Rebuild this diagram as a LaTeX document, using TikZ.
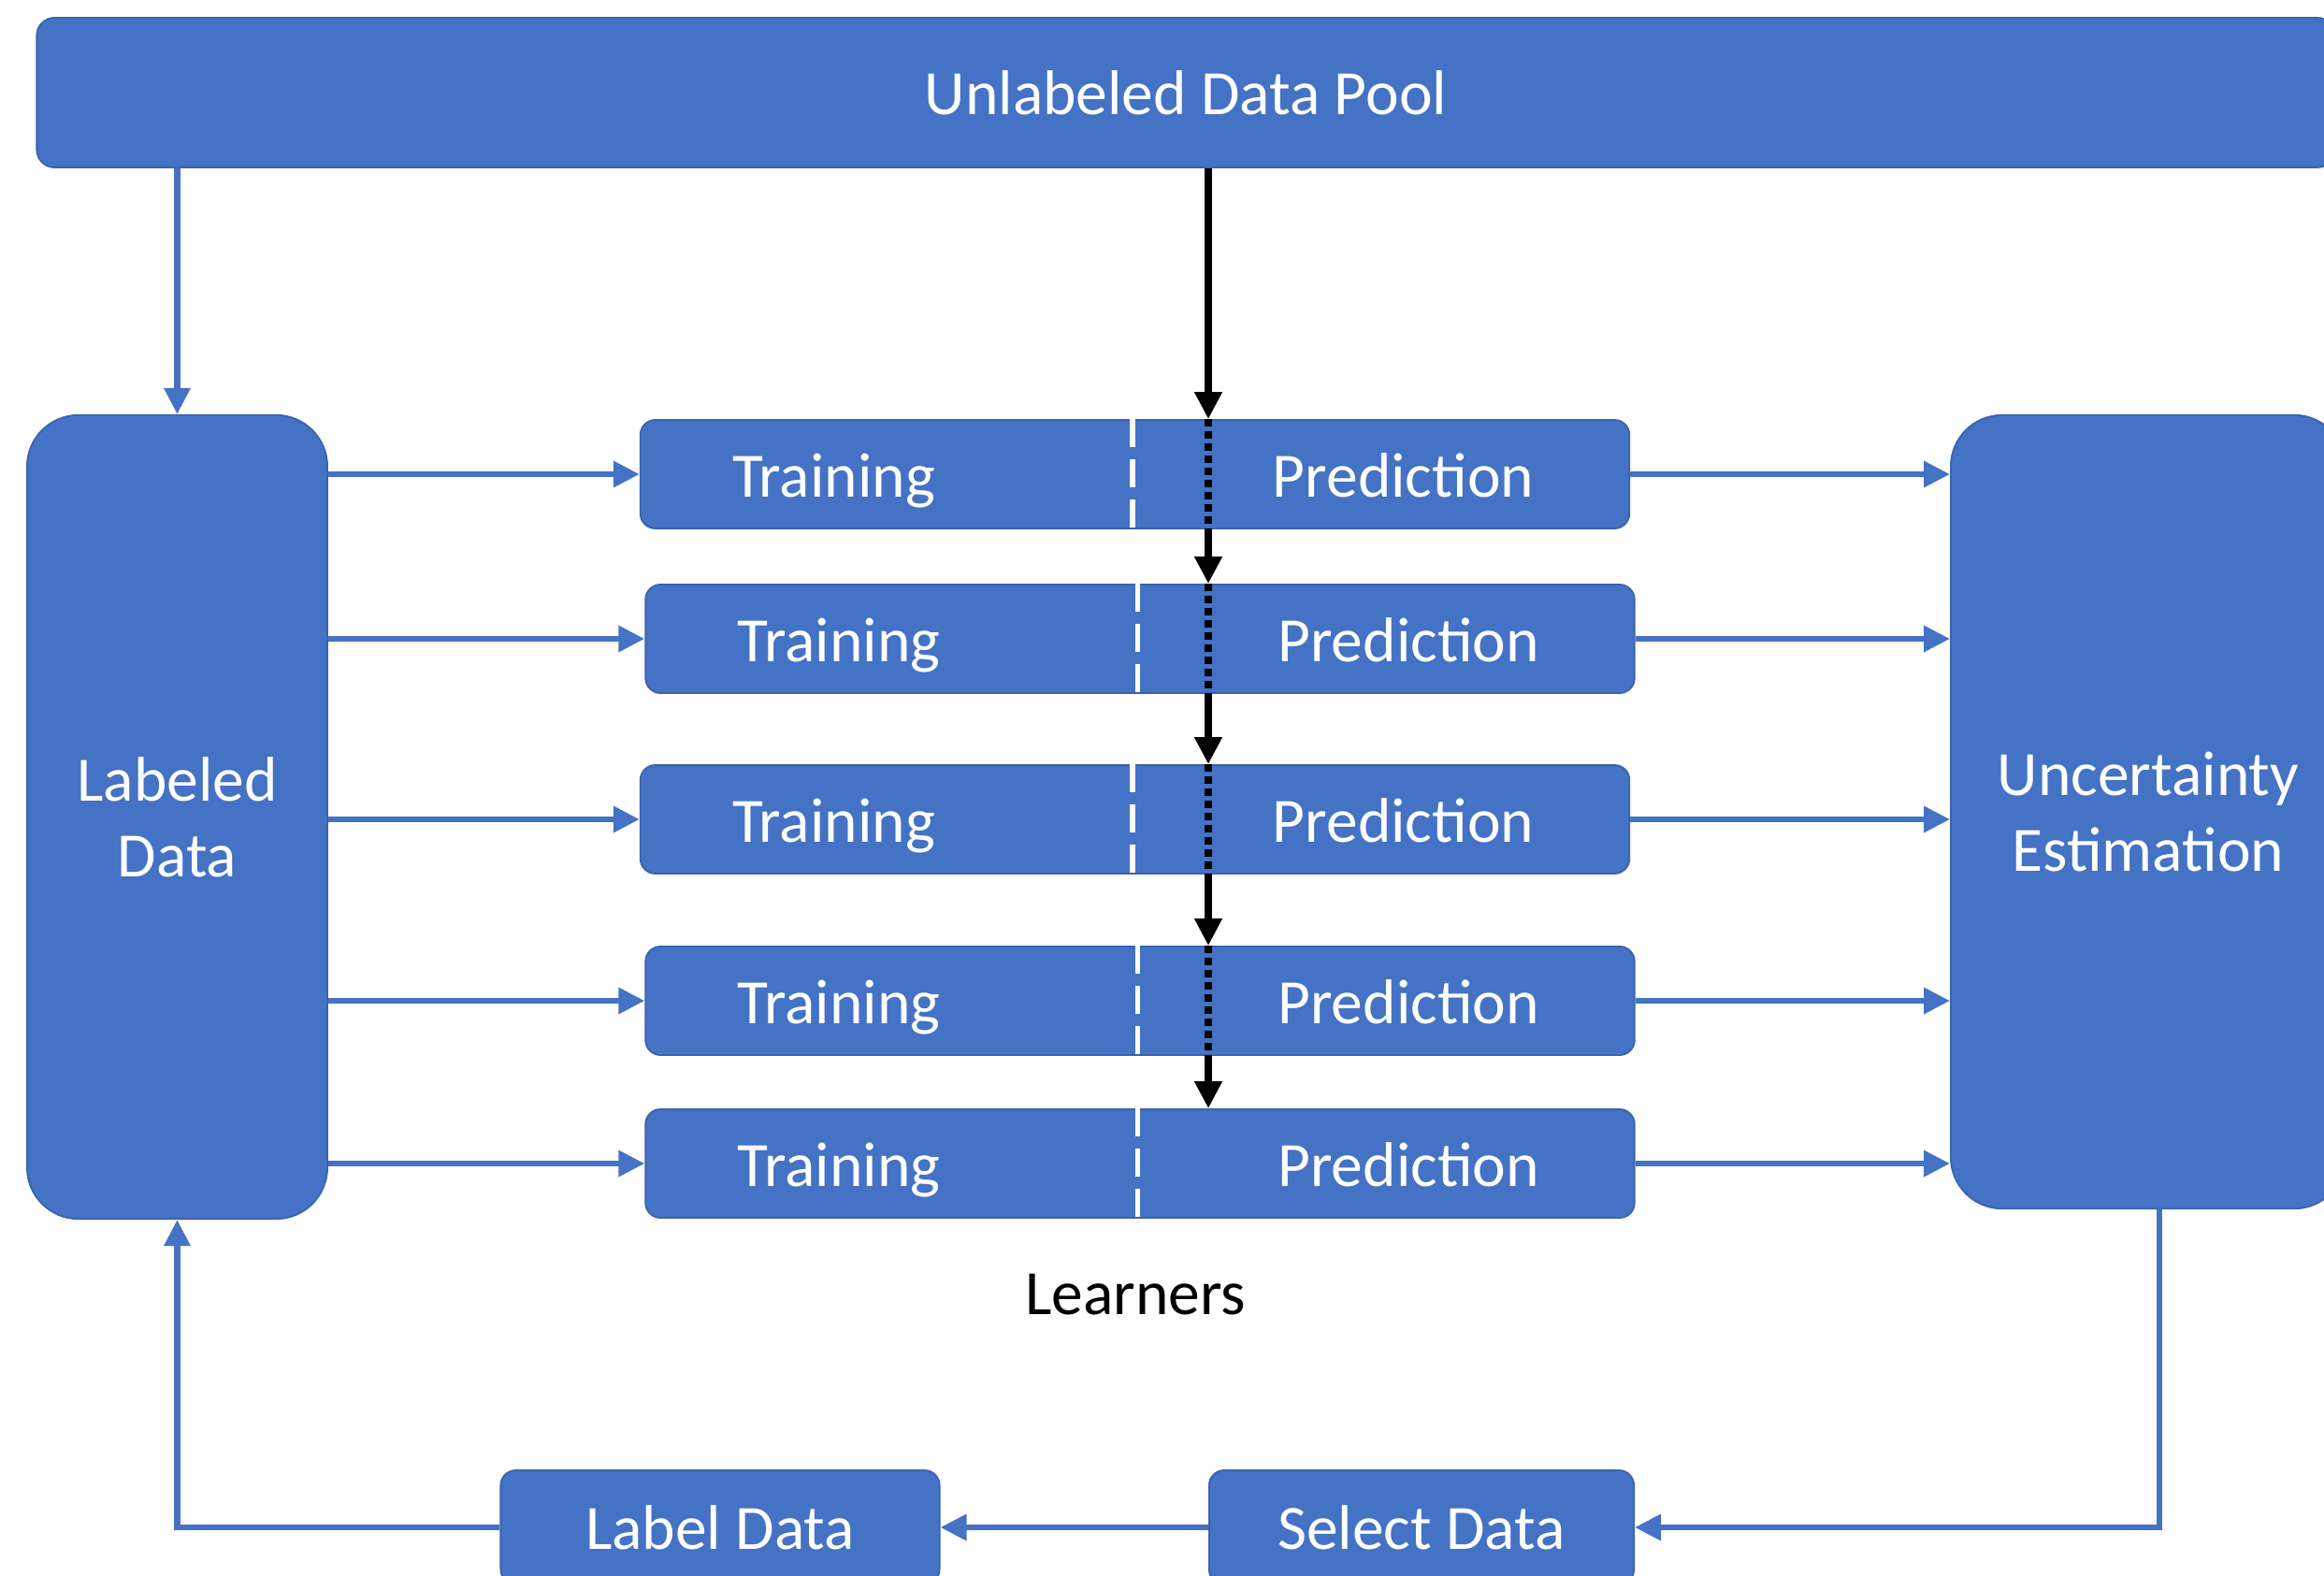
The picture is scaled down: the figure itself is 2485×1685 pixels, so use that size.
\documentclass[tikz,border=0pt]{standalone}
\usepackage{fontspec}
\setmainfont{Carlito}
\usetikzlibrary{arrows.meta}
\definecolor{boxblue}{HTML}{4472C4}
\definecolor{edgeblue}{HTML}{3B63AC}

\begin{document}
\begin{tikzpicture}[x=0.01cm, y=-0.01cm,
  txt/.style={inner sep=0pt, align=center, font=\fontsize{19.2}{23}\selectfont},
  box/.style={txt, fill=boxblue, draw=edgeblue, line width=0.5pt, text=white},
  learner/.style={box, minimum width=10.57cm, minimum height=1.16cm, rounded corners=0.16cm},
  inlabel/.style={txt, text=white, anchor=base},
  bluearrow/.style={draw=boxblue, line width=0.065cm, -{Triangle[length=0.28cm, width=0.27cm]}},
  blackarrow/.style={draw=black, line width=0.075cm, -{Triangle[length=0.29cm, width=0.28cm]}},
  dotline/.style={draw=black, line width=0.08cm, dash pattern=on 0.075cm off 0.055cm},
  divider/.style={draw=white, line width=0.055cm, dash pattern=on 0.30cm off 0.13cm}
]
\useasboundingbox (0,0) rectangle (2485,1685);
\clip (0,0) rectangle (2485,1685);

% main blocks
\node[box, minimum width=24.56cm, minimum height=1.60cm, rounded corners=0.19cm] (pool) at (1268,99) {Unlabeled Data Pool};
\node[box, minimum width=3.21cm, minimum height=8.59cm, rounded corners=0.55cm] (lab) at (189.5,873.5) {Labeled\\Data};
\node[box, minimum width=4.22cm, minimum height=8.48cm, rounded corners=0.55cm] (unc) at (2297,868) {Uncertainty\\Estimation};

% the five learners: training | prediction
\foreach \i/\cx/\cy in {1/1213.5/507, 2/1219/683, 3/1213.5/876, 4/1219/1070, 5/1219/1244} {
  \node[learner] (L\i) at (\cx,\cy) {};
  \node[inlabel] (T\i) at (\cx-322,\cy+24) {Training};
  \node[inlabel] (P\i) at (\cx+287,\cy+24) {Prediction};
  \draw[divider] ([xshift=-0.025cm]L\i.north) -- ([xshift=-0.025cm]L\i.south);
  \draw[bluearrow] (lab.east |- L\i.west) -- (L\i.west);
  \draw[bluearrow] (L\i.east) -- (unc.west |- L\i.east);
}

\node[txt] (learners) at (1214,1384) {Learners};

% selection / labelling loop
\node[box, minimum width=4.69cm, minimum height=1.22cm, rounded corners=0.16cm] (ldat) at (770,1633) {Label Data};
\node[box, minimum width=4.54cm, minimum height=1.22cm, rounded corners=0.16cm] (sel) at (1520,1633) {Select Data};

% unlabeled samples passed through every learner
\coordinate (bx) at (1292,0);
\draw[blackarrow] (pool.south -| bx) -- (L1.north -| bx);
\draw[dotline] (L1.north -| bx) -- (L1.south -| bx);
\draw[blackarrow] (L1.south -| bx) -- (L2.north -| bx);
\draw[dotline] (L2.north -| bx) -- (L2.south -| bx);
\draw[blackarrow] (L2.south -| bx) -- (L3.north -| bx);
\draw[dotline] (L3.north -| bx) -- (L3.south -| bx);
\draw[blackarrow] (L3.south -| bx) -- (L4.north -| bx);
\draw[dotline] (L4.north -| bx) -- (L4.south -| bx);
\draw[blackarrow] (L4.south -| bx) -- (L5.north -| bx);

% blue connectors
\draw[bluearrow] (pool.south -| lab.north) -- (lab.north);
\coordinate (ux) at (2309,0);
\draw[bluearrow] (unc.south -| ux) |- (sel.east);
\draw[bluearrow] (sel.west) -- (ldat.east);
\draw[bluearrow] (ldat.west) -| (lab.south);
\end{tikzpicture}
\end{document}
